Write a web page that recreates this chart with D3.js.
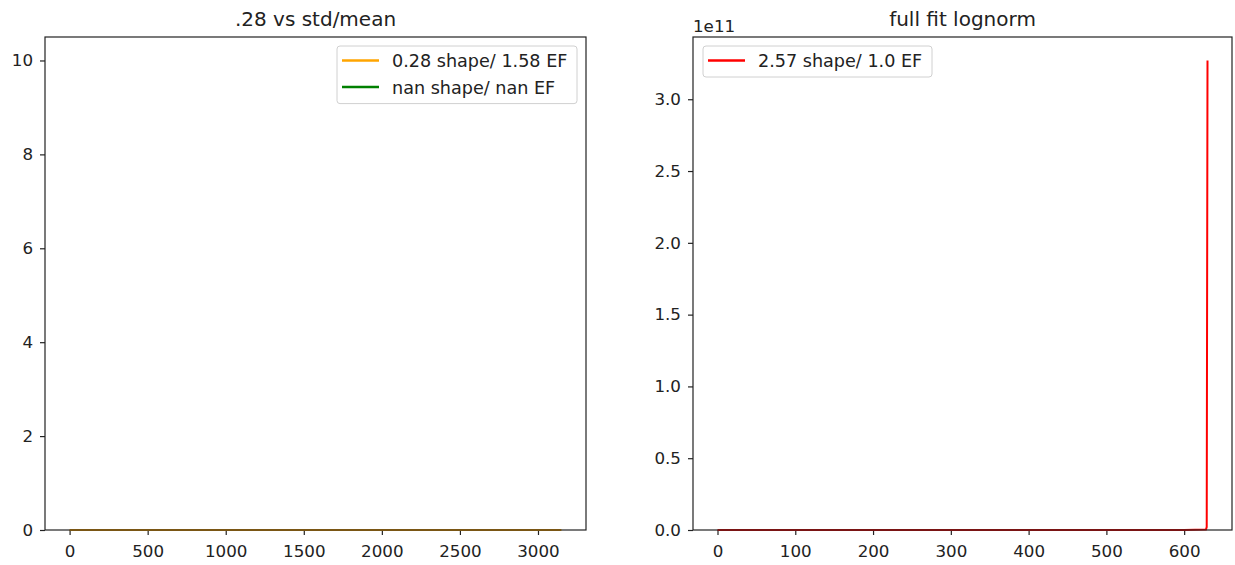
<!DOCTYPE html>
<html>
<head>
<meta charset="utf-8">
<script src="https://cdn.jsdelivr.net/npm/d3@7"></script>
<style>
body { margin: 0; background: #fff; }
text { font-family: "DejaVu Sans", sans-serif; fill: #222; }
</style>
</head>
<body>
<div id="chart"></div>
<script>
// left panel: .28 vs std/mean
var leftX = [0, 500, 1000, 1500, 2000, 2500, 3000, 3150];
var leftOrange = [0.002, 0.002, 0.002, 0.002, 0.002, 0.002, 0.002, 0.002];
var leftXTicks = [0, 500, 1000, 1500, 2000, 2500, 3000];
var leftYTicks = [0, 2, 4, 6, 8, 10];
var leftLegend = ["0.28 shape/ 1.58 EF", "nan shape/ nan EF"];
var leftColours = ["orange", "green"];

// right panel: full fit lognorm (y in units of 1e11)
var rightX = [0, 100, 200, 300, 400, 500, 600, 628, 629, 630];
var rightY = [0, 0, 0, 0, 0, 0, 0.0001, 0.003, 0.02, 3.27];
var rightXTicks = [0, 100, 200, 300, 400, 500, 600];
var rightYTicks = [0, 0.5, 1.0, 1.5, 2.0, 2.5, 3.0];
var rightLegend = ["2.57 shape/ 1.0 EF"];

var svg = d3.select("#chart")
	.append("svg")
	.attr("width", 1235)
	.attr("height", 565);

var plotTop = 37, plotBottom = 530;
var fs = "16.7px";

function panel(left, right, xDomain, yDomain, xTicks, yTicks, yFmt, title) {
	var x = d3.scaleLinear().domain(xDomain).range([left, right]);
	var y = d3.scaleLinear().domain(yDomain).range([plotBottom, plotTop]);
	var g = svg.append("g");

	var xa = g.append("g")
		.attr("transform", "translate(0," + plotBottom + ")")
		.call(d3.axisBottom(x).tickValues(xTicks).tickSize(5).tickFormat(d3.format("d")));
	var ya = g.append("g")
		.attr("transform", "translate(" + left + ",0)")
		.call(d3.axisLeft(y).tickValues(yTicks).tickSize(5).tickPadding(7).tickFormat(yFmt));
	[xa, ya].forEach(function(a) {
		a.select(".domain").remove();
		a.selectAll("line").attr("stroke", "#222").attr("stroke-width", 1.2);
		a.selectAll("text").attr("font-size", fs).style("fill", "#222").attr("font-family", "DejaVu Sans");
	});
	xa.selectAll("text").attr("y", 27).attr("dy", 0);

	g.append("text")
		.attr("x", (left + right) / 2)
		.attr("y", 26)
		.attr("text-anchor", "middle")
		.attr("font-size", "20px")
		.text(title);

	return { x: x, y: y, g: g, left: left, right: right };
}

function frame(p) {
	p.g.append("rect")
		.attr("x", p.left)
		.attr("y", plotTop)
		.attr("width", p.right - p.left)
		.attr("height", plotBottom - plotTop)
		.attr("fill", "none")
		.attr("stroke", "#222")
		.attr("stroke-width", 1.2);
}

function legend(p, x0, y0, w, labels, colours) {
	var h = 31 + (labels.length - 1) * 26.6;
	p.g.append("rect")
		.attr("x", x0).attr("y", y0)
		.attr("width", w).attr("height", h)
		.attr("rx", 3)
		.attr("fill", "#fff")
		.attr("fill-opacity", 0.8)
		.attr("stroke", "#d0d0d0");
	labels.forEach(function(l, i) {
		var cy = y0 + 14.5 + i * 26.6;
		p.g.append("line")
			.attr("x1", x0 + 5).attr("x2", x0 + 42)
			.attr("y1", cy).attr("y2", cy)
			.attr("stroke", colours[i]).attr("stroke-width", 2.5);
		p.g.append("text")
			.attr("x", x0 + 55).attr("y", cy + 6.5)
			.attr("font-size", "17.6px")
			.text(l);
	});
}

// left
var pl = panel(45, 586, [-157.5, 3307.5], [0, 10.5], leftXTicks, leftYTicks, d3.format("d"), ".28 vs std/mean");
var lineL = d3.line()
	.x(function(d, i) { return pl.x(leftX[i]); })
	.y(function(d) { return pl.y(d); });
pl.g.append("path")
	.datum(leftOrange)
	.attr("d", lineL)
	.attr("fill", "none")
	.attr("stroke", leftColours[0])
	.attr("stroke-width", 2);
frame(pl);
legend(pl, 337, 46, 240, leftLegend, leftColours);

// right
var pr = panel(693, 1232, [-31.5, 661.5], [0, 3.4335], rightXTicks, rightYTicks, d3.format(".1f"), "full fit lognorm");
var lineR = d3.line()
	.x(function(d, i) { return pr.x(rightX[i]); })
	.y(function(d) { return pr.y(d); });
pr.g.append("path")
	.datum(rightY)
	.attr("d", lineR)
	.attr("fill", "none")
	.attr("stroke", "red")
	.attr("stroke-width", 2);
frame(pr);
legend(pr, 703, 46, 229, rightLegend, ["red"]);
pr.g.append("text")
	.attr("x", 693)
	.attr("y", 32)
	.attr("font-size", fs)
	.text("1e11");
</script>
</body>
</html>
